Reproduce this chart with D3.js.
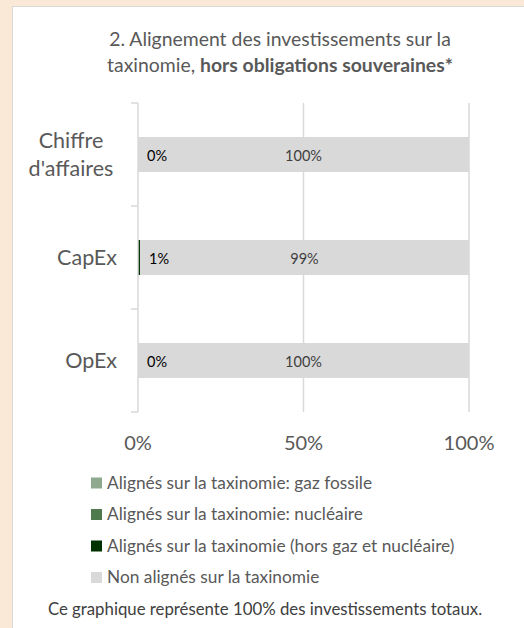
<!DOCTYPE html>
<html><head><meta charset="utf-8">
<script src="https://cdn.jsdelivr.net/npm/d3@7"></script>
<style>
html,body{margin:0;padding:0;background:#FBE9D8;}
svg{display:block;}
text{font-family:Lato,"Open Sans",sans-serif;}
</style></head>
<body>
<svg id="c" width="524" height="628"></svg>
<script>
const categories = ["Chiffre d'affaires", "CapEx", "OpEx"];
const categoryLines = [["Chiffre", "d'affaires"], ["CapEx"], ["OpEx"]];
const seriesNames = [
  "Alignés sur la taxinomie: gaz fossile",
  "Alignés sur la taxinomie: nucléaire",
  "Alignés sur la taxinomie (hors gaz et nucléaire)",
  "Non alignés sur la taxinomie"
];
const gazFossile = [0, 0, 0];
const nucleaire = [0, 0, 0];
const horsGazNucleaire = [0, 0.6, 0];
const nonAlignes = [100, 99.4, 100];
const xTicks = [0, 50, 100];
const seriesColors = ["#8EA98E", "#4E7A4E", "#003300", "#D9D9D9"];

const svg = d3.select("#c");
// white panel
svg.append("rect").attr("x", 12.5).attr("y", 6.5).attr("width", 530).attr("height", 640)
  .attr("fill", "#fff").attr("stroke", "#D9D9D9").attr("stroke-width", 1);

// title
const title = svg.append("text").attr("text-anchor", "middle").attr("fill", "#595959").attr("font-size", 19.4);
title.append("tspan").attr("x", 280).attr("y", 46).text("2. Alignement des investissements sur la");
const t2 = title.append("tspan").attr("x", 280).attr("y", 72);
t2.append("tspan").text("taxinomie, ");
t2.append("tspan").attr("font-weight", "bold").text("hors obligations souveraines*");

const x = d3.scaleLinear().domain([0, 100]).range([138, 469]);
const y = d3.scaleBand().domain(categories).range([103, 412]).paddingInner(0.66).paddingOuter(0.33);

// gridlines
svg.append("g").selectAll("line").data(xTicks.filter(d => d > 0)).join("line")
  .attr("x1", d => x(d)).attr("x2", d => x(d)).attr("y1", 103).attr("y2", 412)
  .attr("stroke", "#D9D9D9").attr("stroke-width", 1.5);

// stacked data
const rows = categories.map((c, i) => ({cat: c, s0: gazFossile[i], s1: nucleaire[i], s2: horsGazNucleaire[i], s3: nonAlignes[i]}));
const stack = d3.stack().keys(["s0", "s1", "s2", "s3"])(rows);
stack.forEach((layer, li) => {
  svg.append("g").selectAll("rect").data(layer).join("rect")
    .attr("x", d => x(d[0])).attr("width", d => x(d[1]) - x(d[0]))
    .attr("y", d => y(d.data.cat)).attr("height", y.bandwidth())
    .attr("fill", seriesColors[li]);
});

// axis line with ticks at band boundaries
const bounds = [103, 206, 309, 412];
svg.append("line").attr("x1", 138).attr("x2", 138).attr("y1", 103).attr("y2", 412)
  .attr("stroke", "#D9D9D9").attr("stroke-width", 1.5);
svg.append("g").selectAll("line").data(bounds).join("line")
  .attr("x1", 131).attr("x2", 138).attr("y1", d => d).attr("y2", d => d)
  .attr("stroke", "#D9D9D9").attr("stroke-width", 1.5);

// data labels
const fmt = v => Math.round(v) + "%";
svg.append("g").selectAll("text").data(rows).join("text")
  .attr("x", d => x(d.s0 + d.s1 + d.s2) + 9).attr("y", d => y(d.cat) + y.bandwidth() / 2 + 6)
  .attr("font-size", 14.5).attr("fill", "#000").text(d => fmt(d.s2));
svg.append("g").selectAll("text").data(rows).join("text")
  .attr("text-anchor", "middle")
  .attr("x", d => x((d.s0 + d.s1 + d.s2) + d.s3 / 2)).attr("y", d => y(d.cat) + y.bandwidth() / 2 + 6)
  .attr("font-size", 14.5).attr("fill", "#404040").text(d => fmt(d.s3));

// category labels
categories.forEach((c, i) => {
  const lines = categoryLines[i];
  const cy = y(c) + y.bandwidth() / 2;
  const t = svg.append("text").attr("fill", "#595959").attr("font-size", 21.5);
  if (lines.length > 1) {
    t.attr("text-anchor", "middle");
    lines.forEach((l, j) => {
      t.append("tspan").attr("x", 71).attr("y", cy - 6.5 + j * 27.5).text(l);
    });
  } else {
    t.attr("text-anchor", "end").attr("x", 117).attr("y", cy + 7.5).text(lines[0]);
  }
});

// x axis labels
svg.append("g").selectAll("text").data(xTicks).join("text")
  .attr("x", d => x(d)).attr("y", 450).attr("text-anchor", "middle")
  .attr("font-size", 20).attr("fill", "#595959").text(d => d + "%");

// legend
const lg = svg.append("g").selectAll("g").data(seriesNames).join("g")
  .attr("transform", (d, i) => `translate(91,${483 + i * 31.5})`);
lg.append("rect").attr("x", 0).attr("y", -5.5).attr("width", 11).attr("height", 11)
  .attr("fill", (d, i) => seriesColors[i]);
lg.append("text").attr("x", 16).attr("y", 5.5).attr("font-size", 17.3).attr("fill", "#595959").text(d => d);

// footer
svg.append("text").attr("x", 265).attr("y", 615).attr("text-anchor", "middle")
  .attr("font-size", 16.8).attr("fill", "#404040").text("Ce graphique représente 100% des investissements totaux.");
</script>
</body></html>
